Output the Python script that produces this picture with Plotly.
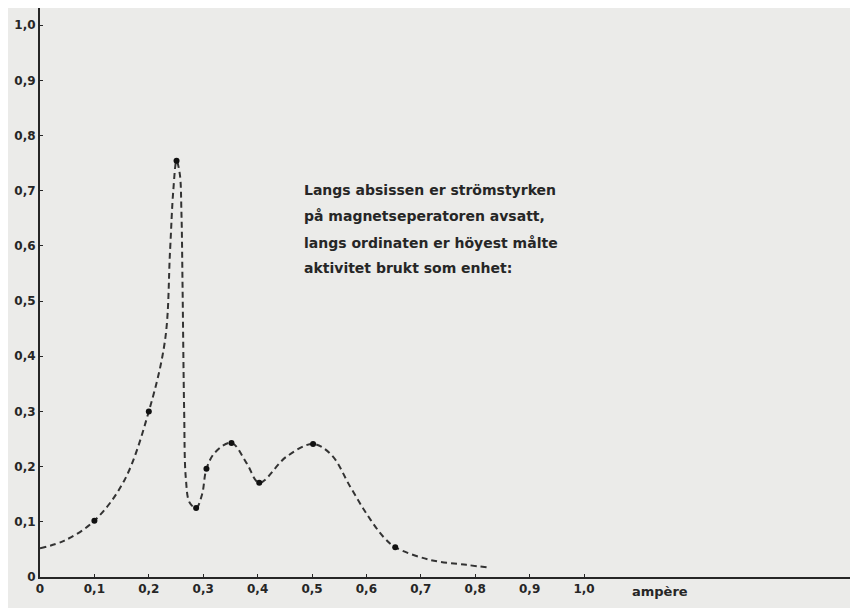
import plotly.graph_objects as go

# Curve (ampere, relative activity)
curve_x = [0.0, 0.045, 0.1, 0.155, 0.2, 0.23, 0.239, 0.245, 0.251, 0.257, 0.260, 0.262, 0.265,
           0.268, 0.275, 0.287, 0.298, 0.306, 0.322, 0.352, 0.38, 0.403, 0.453, 0.502, 0.536,
           0.57, 0.6, 0.631, 0.653, 0.717, 0.784, 0.825]
curve_y = [0.052, 0.066, 0.102, 0.175, 0.3, 0.43, 0.59, 0.70, 0.754, 0.73, 0.66, 0.53, 0.30,
           0.18, 0.135, 0.125, 0.15, 0.196, 0.226, 0.243, 0.206, 0.171, 0.218, 0.241, 0.221,
           0.164, 0.115, 0.073, 0.054, 0.031, 0.022, 0.017]

# Measured points (marked with dots)
meas_x = [0.1, 0.2, 0.251, 0.287, 0.306, 0.352, 0.403, 0.502, 0.653]
meas_y = [0.102, 0.3, 0.754, 0.125, 0.196, 0.243, 0.171, 0.241, 0.054]

x_ticks = [0, 0.1, 0.2, 0.3, 0.4, 0.5, 0.6, 0.7, 0.8, 0.9, 1.0]
x_labels = ["0", "0,1", "0,2", "0,3", "0,4", "0,5", "0,6", "0,7", "0,8", "0,9", "1,0"]
y_ticks = [0, 0.1, 0.2, 0.3, 0.4, 0.5, 0.6, 0.7, 0.8, 0.9, 1.0]
y_labels = ["0", "0,1", "0,2", "0,3", "0,4", "0,5", "0,6", "0,7", "0,8", "0,9", "1,0"]

note_lines = [
    "Langs absissen er strömstyrken",
    "på magnetseperatoren avsatt,",
    "langs ordinaten er höyest målte",
    "aktivitet brukt som enhet:",
]
note_x = 0.482
note_y = [0.701, 0.654, 0.606, 0.560]

bg = "#ebebe9"
ink = "#262626"
font = "DejaVu Sans"

fig = go.Figure()
fig.add_trace(go.Scatter(
    x=curve_x, y=curve_y, mode="lines",
    line=dict(color="#333333", width=2, dash="6px,4px", shape="spline", smoothing=1.0),
    hoverinfo="skip", showlegend=False,
))
fig.add_trace(go.Scatter(
    x=meas_x, y=meas_y, mode="markers",
    marker=dict(color="#111111", size=6, symbol="circle"),
    showlegend=False,
))

for line, yy in zip(note_lines, note_y):
    fig.add_annotation(
        x=note_x, y=yy, xref="x", yref="y",
        text=line, showarrow=False, xanchor="left", yanchor="middle", align="left",
        font=dict(family=font, size=14, color=ink, weight="bold"),
    )
fig.add_annotation(
    x=1.14, y=0, xref="x", yref="y", yshift=-14,
    text="ampère", showarrow=False, xanchor="center", yanchor="middle",
    font=dict(family=font, size=13, color=ink, weight="bold"),
)

fig.update_layout(
    width=850, height=600,
    margin=dict(l=32, r=2, t=0, b=31, autoexpand=False),
    paper_bgcolor=bg, plot_bgcolor=bg,
    xaxis=dict(
        range=[0, 1.5], tickvals=x_ticks, ticktext=x_labels, automargin=False,
        showgrid=False, zeroline=False, showline=True, linecolor=ink, linewidth=2,
        ticks="inside", ticklen=3, tickcolor=ink, tickwidth=1,
        tickfont=dict(family=font, size=12, color=ink, weight="bold"),
    ),
    yaxis=dict(
        range=[0, 1.031], tickvals=y_ticks, ticktext=y_labels, automargin=False,
        showgrid=False, zeroline=False, showline=True, linecolor=ink, linewidth=2,
        ticks="inside", ticklen=3, tickcolor=ink, tickwidth=1,
        tickfont=dict(family=font, size=12, color=ink, weight="bold"),
    ),
)

fig.write_html("out.html")
